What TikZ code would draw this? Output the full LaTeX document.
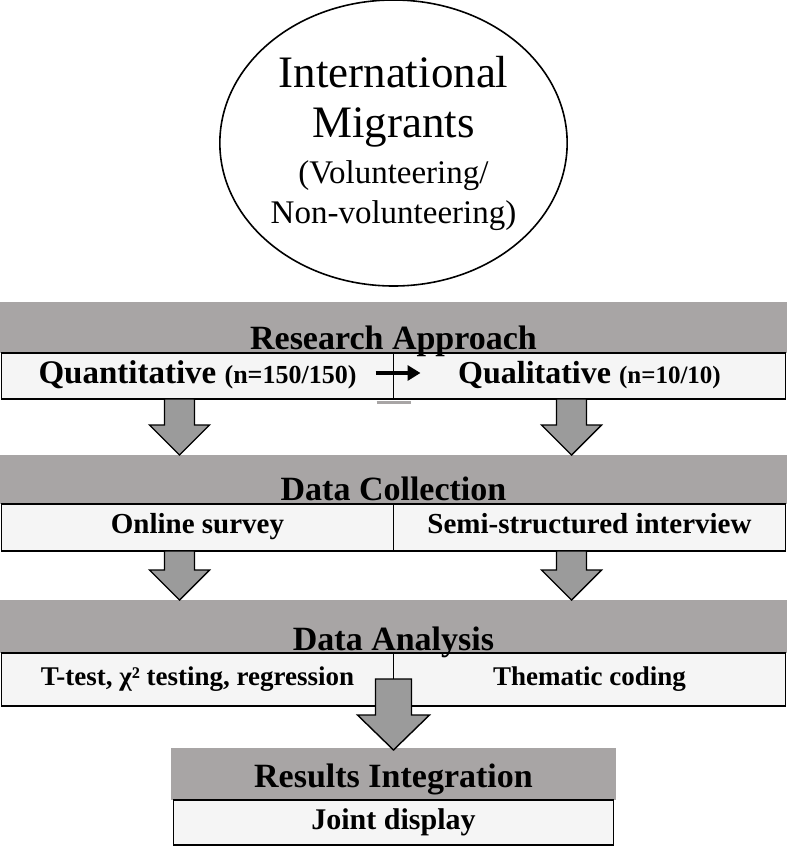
\documentclass[tikz,border=0pt]{standalone}
\usepackage{fontspec}
\setmainfont{Liberation Serif}
\usetikzlibrary{shapes.geometric,positioning,calc,arrows.meta}

\definecolor{bandgray}{RGB}{168,165,165}
\definecolor{rowwhite}{RGB}{245,245,245}
\definecolor{arrgray}{RGB}{155,155,155}

\tikzstyle{migrant} = [ellipse, draw=black, line width=1.6pt, minimum width=292pt, minimum height=286pt, align=center, inner sep=0pt, font=\fontsize{45}{50}\selectfont]
\tikzstyle{band} = [rectangle, fill=bandgray, minimum width=787pt, minimum height=51pt, inner sep=0pt]
\tikzstyle{cell} = [rectangle, draw=black, line width=1.4pt, fill=rowwhite, minimum width=392pt, minimum height=46pt, inner sep=0pt, execute at begin node=\strut]
\tikzstyle{head} = [anchor=base, inner sep=0pt, font=\bfseries\fontsize{34}{38}\selectfont]
\tikzstyle{blockarr} = [draw=black, line width=1.4pt, fill=arrgray, line join=miter]
\tikzstyle{smallarr} = [-{Triangle[length=13pt,width=15pt]}, line width=3.5pt]

% top point, tip point, half shaft, half head, head length
\newcommand{\blockarrow}[5]{\draw[blockarr] ($(#1)+(-#3,0)$) -- ($(#2)+(-#3,#5)$) -- ($(#2)+(-#4,#5)$) -- (#2) -- ($(#2)+(#4,#5)$) -- ($(#2)+(#3,#5)$) -- ($(#1)+(#3,0)$) -- cycle;}

\begin{document}
\begin{tikzpicture}[x=1pt,y=1pt,every node/.style={outer sep=0pt}]
\useasboundingbox (0,0) rectangle (787,-854);

\node(mig) [migrant] at (393.5,-143) {International\\ Migrants\\[-4pt]
\fontsize{33}{40}\selectfont (Volunteering/\\[-10pt] \fontsize{33}{40}\selectfont Non-volunteering)};

% research approach
\node(apband) [band, below=16pt of mig] {};
\node(quant) [cell, below right=0pt and 1.5pt of apband.south west, font=\bfseries\fontsize{33}{36}\selectfont] {Quantitative {\fontsize{26}{28}\selectfont(n=150/150)}};
\node(qual) [cell, right=0pt of quant, font=\bfseries\fontsize{32}{36}\selectfont] {Qualitative {\fontsize{25}{28}\selectfont(n=10/10)}};
\node(aphead) [head] at ([yshift=4pt]apband.south) {Research Approach};
\draw[smallarr] ([xshift=-18pt,yshift=3pt]quant.east) -- ([xshift=27pt,yshift=3pt]qual.west);
\draw[bandgray, line width=3pt] ([xshift=-17pt,yshift=-3pt]quant.south east) -- ([xshift=17pt,yshift=-3pt]quant.south east);

% data collection
\node(colband) [band, below=102pt of apband, minimum height=49pt] {};
\node(online) [cell, below right=0pt and 1.5pt of colband.south west, minimum height=47pt, font=\bfseries\fontsize{29}{32}\selectfont] {Online survey};
\node(semi) [cell, right=0pt of online, minimum height=47pt, font=\bfseries\fontsize{29}{32}\selectfont] {Semi-structured interview};
\node(colhead) [head] at ([yshift=4pt]colband.south) {Data Collection};

\coordinate (qtop) at ([xshift=-18pt]quant.south);
\coordinate (qtip) at (qtop |- colband.north);
\coordinate (ltop) at ([xshift=-18pt]qual.south);
\coordinate (ltip) at (ltop |- colband.north);
\blockarrow{qtop}{qtip}{15}{30}{30}
\blockarrow{ltop}{ltip}{15}{30}{30}

% data analysis
\node(anband) [band, below=96pt of colband, minimum height=53pt] {};
\node(ttest) [cell, below right=0pt and 1.5pt of anband.south west, minimum height=53pt, font=\bfseries\fontsize{27}{30}\selectfont] {T-test, χ² testing, regression};
\node(thematic) [cell, right=0pt of ttest, minimum height=53pt, font=\bfseries\fontsize{27}{30}\selectfont] {Thematic coding};
\node(anhead) [head] at ([yshift=3pt]anband.south) {Data Analysis};

\coordinate (otop) at ([xshift=-18pt]online.south);
\coordinate (otip) at (otop |- anband.north);
\coordinate (stop) at ([xshift=-18pt]semi.south);
\coordinate (stip) at (stop |- anband.north);
\blockarrow{otop}{otip}{15}{30}{30}
\blockarrow{stop}{stip}{15}{30}{30}

% results integration
\node(resband) [band, below=95pt of anband, minimum width=445pt, minimum height=52pt] {};
\node(joint) [cell, below=0pt of resband, minimum width=440pt, minimum height=45pt, font=\bfseries\fontsize{30}{34}\selectfont] {Joint display};
\node(reshead) [head] at ([yshift=13pt]resband.south) {Results Integration};

\coordinate (atop) at ([yshift=27pt]ttest.south east);
\coordinate (atip) at ([yshift=-2pt]atop |- resband.north);
\blockarrow{atop}{atip}{18}{36}{35}

\end{tikzpicture}
\end{document}
